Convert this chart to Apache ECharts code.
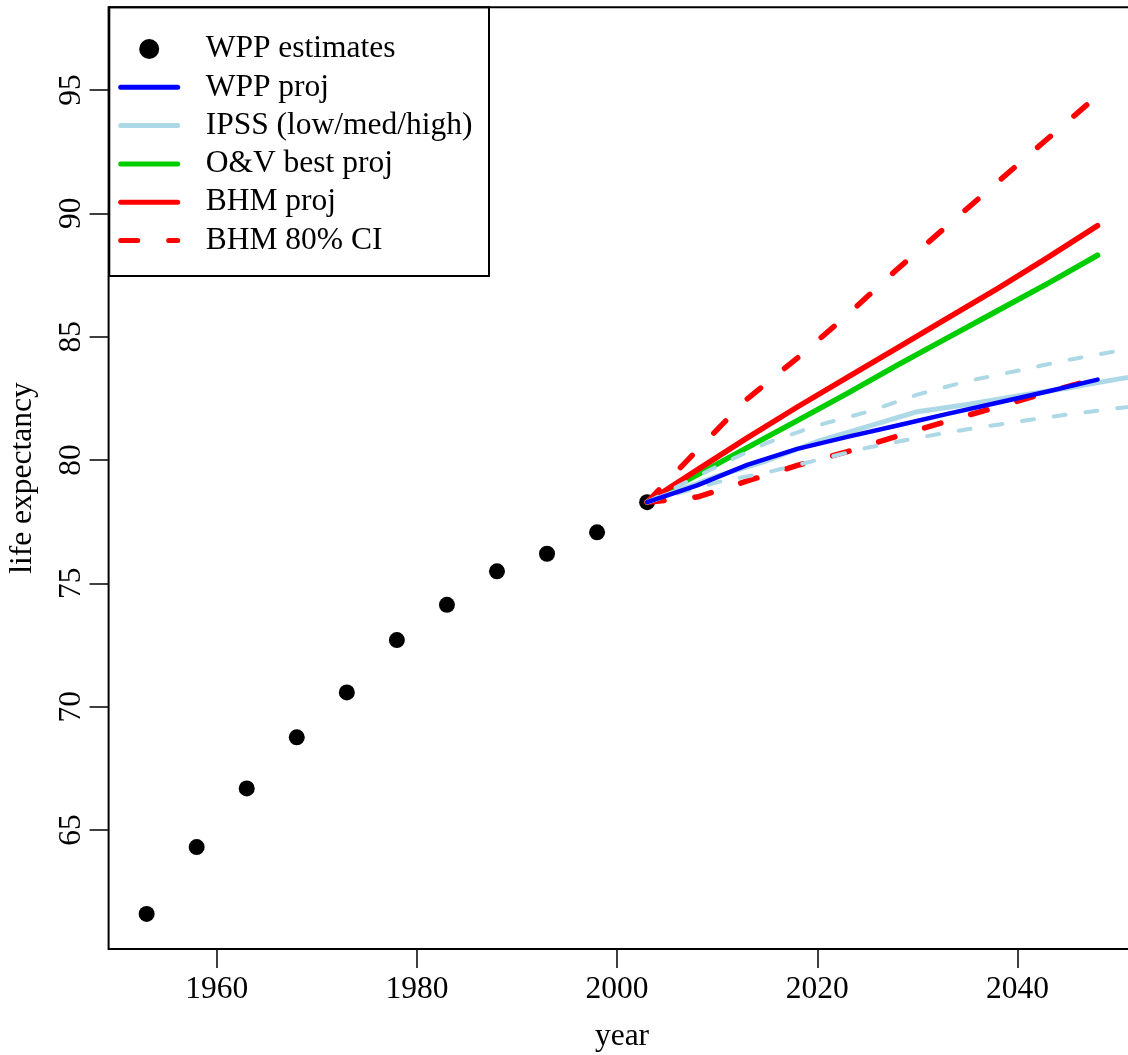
<!DOCTYPE html>
<html>
<head>
<meta charset="utf-8">
<script src="https://cdn.jsdelivr.net/npm/echarts@6/dist/echarts.min.js"></script>
<style>
html,body{margin:0;padding:0;background:#fff;}
#chart{width:1128px;height:1055px;}
</style>
</head>
<body>
<div id="chart"></div>
<script>
// ---- data ----
const estYears = [1953, 1958, 1963, 1968, 1973, 1978, 1983, 1988, 1993, 1998, 2003];
const wppEstimates = [61.6, 64.31, 66.69, 68.76, 70.58, 72.70, 74.13, 75.49, 76.2, 77.07, 78.29];

const projYears = [2003, 2008, 2013, 2018, 2023, 2028, 2033, 2038, 2043, 2048];
const wppProj = [78.29, 78.97, 79.8, 80.45, 80.94, 81.4, 81.87, 82.32, 82.78, 83.26];
const ovBest  = [78.29, 79.4, 80.5, 81.6, 82.7, 83.85, 84.95, 86.05, 87.15, 88.3];
const bhmProj = [78.29, 79.6, 80.9, 82.15, 83.35, 84.55, 85.75, 86.95, 88.2, 89.5];
const bhmLow  = [78.29, 78.5, 79.15, 79.78, 80.34, 80.97, 81.58, 82.15, 82.74, 83.32];
const bhmHigh = [78.29, 80.4, 82.48, 84.13, 85.88, 87.74, 89.5, 91.26, 93.02, 94.77];

const ipssYears = [2003, 2010, 2015, 2020, 2025, 2030, 2035, 2040, 2045, 2050, 2055];
const ipssLow  = [78.29, 79.1, 79.5, 80.0, 80.5, 80.9, 81.25, 81.55, 81.85, 82.1, 82.35];
const ipssMed  = [78.29, 79.35, 79.98, 80.75, 81.35, 81.96, 82.25, 82.6, 82.92, 83.28, 83.6];
const ipssHigh = [78.29, 79.75, 80.7, 81.4, 81.95, 82.65, 83.2, 83.62, 84.05, 84.42, 84.8];

const xTicks = [1960, 1980, 2000, 2020, 2040];
const yTicks = [65, 70, 75, 80, 85, 90, 95];

const FONT = 'Liberation Serif';
const FS = 31.5;
const RED_DASH = [17, 31];
const BLUE_DASH = [12, 20];

function pairs(xs, ys) { return xs.map((x, i) => [x, ys[i]]); }

const chart = echarts.init(document.getElementById('chart'), null, {renderer: 'canvas'});

const lineBase = (name, xs, ys, color, width, dash) => ({
  name: name,
  type: 'line',
  data: pairs(xs, ys),
  symbol: 'none',
  showSymbol: false,
  clip: true,
  animation: false,
  lineStyle: {color: color, width: width, type: dash || 'solid', cap: 'round', join: 'round'},
  itemStyle: {color: color},
  emphasis: {disabled: true}
});

const legLine = (name, color, dash) => ({
  name: name,
  itemStyle: {opacity: 0},
  lineStyle: {color: color, width: 5, type: dash || 'solid', cap: 'round', opacity: 1}
});

const option = {
  animation: false,
  backgroundColor: '#fff',
  textStyle: {fontFamily: FONT},
  grid: {left: 108.6, right: -7.6, top: 7.3, bottom: 106, show: true, borderColor: '#000', borderWidth: 2, backgroundColor: 'transparent', containLabel: false, outerBoundsMode: 'none'},
  xAxis: {
    type: 'value', min: 1949.2, max: 2051.8,
    axisLine: {show: false},
    splitLine: {show: false},
    axisTick: {show: true, inside: false, length: 19, lineStyle: {color: '#000', width: 1.5}, customValues: xTicks},
    axisLabel: {show: true, customValues: xTicks, margin: 25, color: '#000', fontFamily: FONT, fontSize: FS, formatter: v => String(v)}
  },
  yAxis: {
    type: 'value', min: 60.18, max: 98.35,
    axisLine: {show: false},
    splitLine: {show: false},
    axisTick: {show: true, inside: false, length: 19, lineStyle: {color: '#000', width: 1.5}, customValues: yTicks},
    axisLabel: {show: true, customValues: yTicks, rotate: 90, margin: 21, color: '#000', fontFamily: FONT, fontSize: FS, formatter: v => String(v)}
  },
  legend: {
    show: true,
    orient: 'vertical',
    left: 118.2, top: 33,
    padding: 0,
    itemWidth: 57, itemHeight: 20, itemGap: 6.3,
    selectedMode: false,
    textStyle: {fontFamily: FONT, fontSize: FS, color: '#000', lineHeight: 31, padding: [0, 0, 0, 23]},
    data: [
      {name: 'WPP estimates', itemStyle: {color: '#000', opacity: 1}},
      legLine('WPP proj', '#0000ff'),
      legLine('IPSS (low/med/high)', '#add8e6'),
      legLine('O&V best proj', '#00cd00'),
      legLine('BHM proj', '#ff0000'),
      legLine('BHM 80% CI', '#ff0000', RED_DASH)
    ]
  },
  graphic: [
    {type: 'rect', z: -1, shape: {x: 109.3, y: 7.3, width: 379.7, height: 268.7}, style: {fill: '#fff', stroke: '#000', lineWidth: 2}},
    {type: 'text', x: 622, y: 1037, style: {text: 'year', fontFamily: FONT, fontSize: FS, fill: '#000', align: 'center', verticalAlign: 'middle'}},
    {type: 'text', x: 23, y: 478, rotation: Math.PI / 2, style: {text: 'life expectancy', fontFamily: FONT, fontSize: FS, fill: '#000', align: 'center', verticalAlign: 'middle'}}
  ],
  series: [
    {
      name: 'WPP estimates', type: 'scatter', data: pairs(estYears, wppEstimates),
      symbol: 'circle', symbolSize: 16, itemStyle: {color: '#000', opacity: 1}, emphasis: {disabled: true}, animation: false
    },
    lineBase('BHM 80% CI', projYears, bhmHigh, '#ff0000', 5.5, RED_DASH),
    lineBase('BHM 80% CI', projYears, bhmLow, '#ff0000', 5.5, RED_DASH),
    lineBase('O&V best proj', projYears, ovBest, '#00cd00', 5.5),
    lineBase('BHM proj', projYears, bhmProj, '#ff0000', 5.5),
    lineBase('IPSS low', ipssYears, ipssLow, '#add8e6', 4, BLUE_DASH),
    lineBase('IPSS high', ipssYears, ipssHigh, '#add8e6', 4, BLUE_DASH),
    lineBase('IPSS (low/med/high)', ipssYears, ipssMed, '#add8e6', 5),
    lineBase('WPP proj', projYears, wppProj, '#0000ff', 4.5)
  ]
};
chart.setOption(option);
</script>
</body>
</html>
